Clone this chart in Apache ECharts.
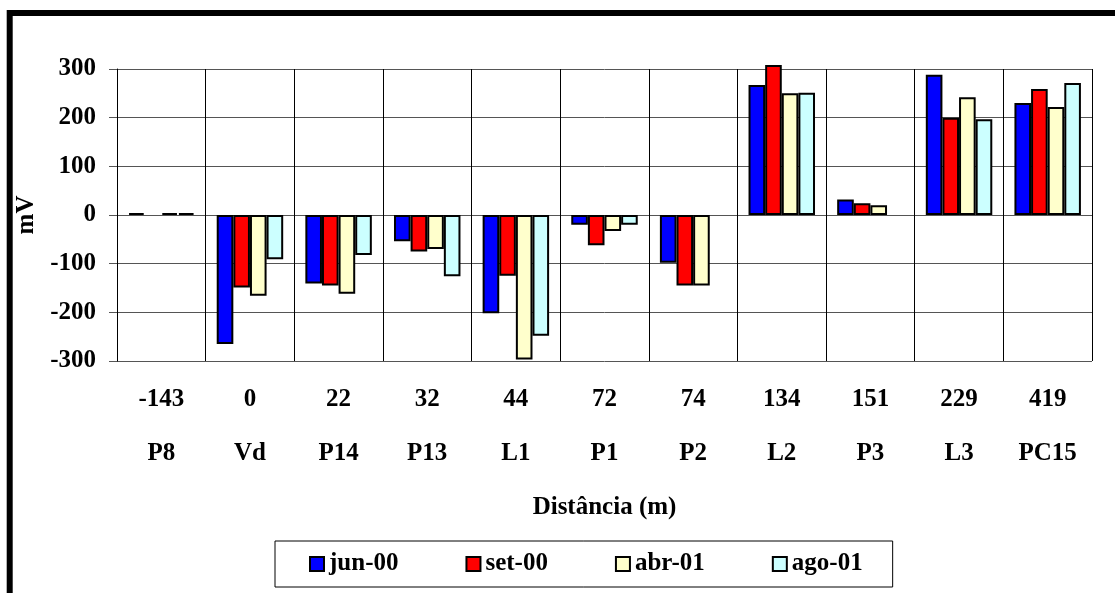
<!DOCTYPE html>
<html>
<head>
<meta charset="utf-8">
<title>Potencial (mV) x Distância</title>
<script src="https://cdn.jsdelivr.net/npm/echarts@6/dist/echarts.min.js"></script>
<style>
  html, body { margin: 0; padding: 0; background: #fff; }
  #chart { width: 1115px; height: 593px; }
</style>
</head>
<body>
<div id="chart"></div>
<script>
// Measurement points and their distance along the section (m)
const pontos = ['P8', 'Vd', 'P14', 'P13', 'L1', 'P1', 'P2', 'L2', 'P3', 'L3', 'PC15'];
const distancias = ['-143', '0', '22', '32', '44', '72', '74', '134', '151', '229', '419'];

// Potential readings (mV) for each campaign
const jun00 = [4, -265, -141, -54, -202, -20, -98, 267, 32, 288, 230];
const set00 = [null, -149, -145, -75, -125, -62, -145, 308, 24, 200, 259];
const abr01 = [4, -166, -162, -70, -297, -33, -145, 250, 20, 242, 222];
const ago01 = [4, -91, -82, -126, -248, -20, null, 251, null, 197, 271];

// Value axis ticks
const yMin = -300, yMax = 300, yStep = 100;

const FONT = "'Liberation Serif', 'Times New Roman', serif";

const campanhas = [
  { name: 'jun-00', data: jun00, color: '#0000FF' },
  { name: 'set-00', data: set00, color: '#FF0000' },
  { name: 'abr-01', data: abr01, color: '#FFFFCC' },
  { name: 'ago-01', data: ago01, color: '#CCFFFF' }
];

const chart = echarts.init(document.getElementById('chart'), null, { renderer: 'canvas' });

chart.setOption({
  animation: false,
  backgroundColor: '#fff',
  textStyle: { fontFamily: FONT, fontWeight: 'bold', color: '#000' },
  graphic: [{
    type: 'rect',
    shape: { x: 9.7, y: 13, width: 1300, height: 800 },
    style: { fill: 'none', stroke: '#000', lineWidth: 6 },
    silent: true,
    z: 100
  }],
  grid: { left: 117, right: 23, top: 69, bottom: 232 },
  legend: {
    data: campanhas.map(c => c.name),
    left: 275,
    top: 541,
    orient: 'horizontal',
    itemWidth: 14,
    itemHeight: 14,
    itemGap: 67,
    padding: [10, 30, 10, 34],
    borderColor: '#000',
    borderWidth: 1,
    icon: 'rect',
    textStyle: { fontFamily: FONT, fontWeight: 'bold', fontSize: 25, color: '#000', lineHeight: 26 }
  },
  xAxis: {
    type: 'category',
    data: pontos,
    position: 'bottom',
    name: 'Distância (m)',
    nameLocation: 'middle',
    nameGap: 134,
    nameTextStyle: { fontFamily: FONT, fontWeight: 'bold', fontSize: 25, color: '#000' },
    axisLine: { show: false },
    axisTick: { show: true, length: 109, lineStyle: { color: '#000', width: 1 } },
    splitLine: { show: true, lineStyle: { color: '#000', width: 1 } },
    axisLabel: {
      margin: 12,
      interval: 0,
      formatter: (v, i) => '{d|' + distancias[i] + '}\n{n|' + v + '}',
      rich: {
        d: { fontFamily: FONT, fontWeight: 'bold', fontSize: 25, color: '#000', lineHeight: 54 },
        n: { fontFamily: FONT, fontWeight: 'bold', fontSize: 25, color: '#000', lineHeight: 54 }
      }
    }
  },
  yAxis: {
    type: 'value',
    min: yMin,
    max: yMax,
    interval: yStep,
    name: 'mV',
    nameLocation: 'middle',
    nameGap: 78,
    nameRotate: 90,
    nameTextStyle: { fontFamily: FONT, fontWeight: 'bold', fontSize: 25, color: '#000' },
    axisLine: { show: true, lineStyle: { color: '#000', width: 1 } },
    axisTick: { show: true, length: 8, lineStyle: { color: '#555', width: 1 } },
    splitLine: { show: true, lineStyle: { color: '#555', width: 1 } },
    axisLabel: {
      margin: 21,
      fontFamily: FONT,
      fontWeight: 'bold',
      fontSize: 25,
      color: '#000'
    }
  },
  series: campanhas.map(c => ({
    type: 'bar',
    name: c.name,
    data: c.data,
    clip: false,
    barGap: '0%',
    barCategoryGap: '25%',
    itemStyle: { color: c.color, borderColor: '#000', borderWidth: 2 }
  }))
});
</script>
</body>
</html>
